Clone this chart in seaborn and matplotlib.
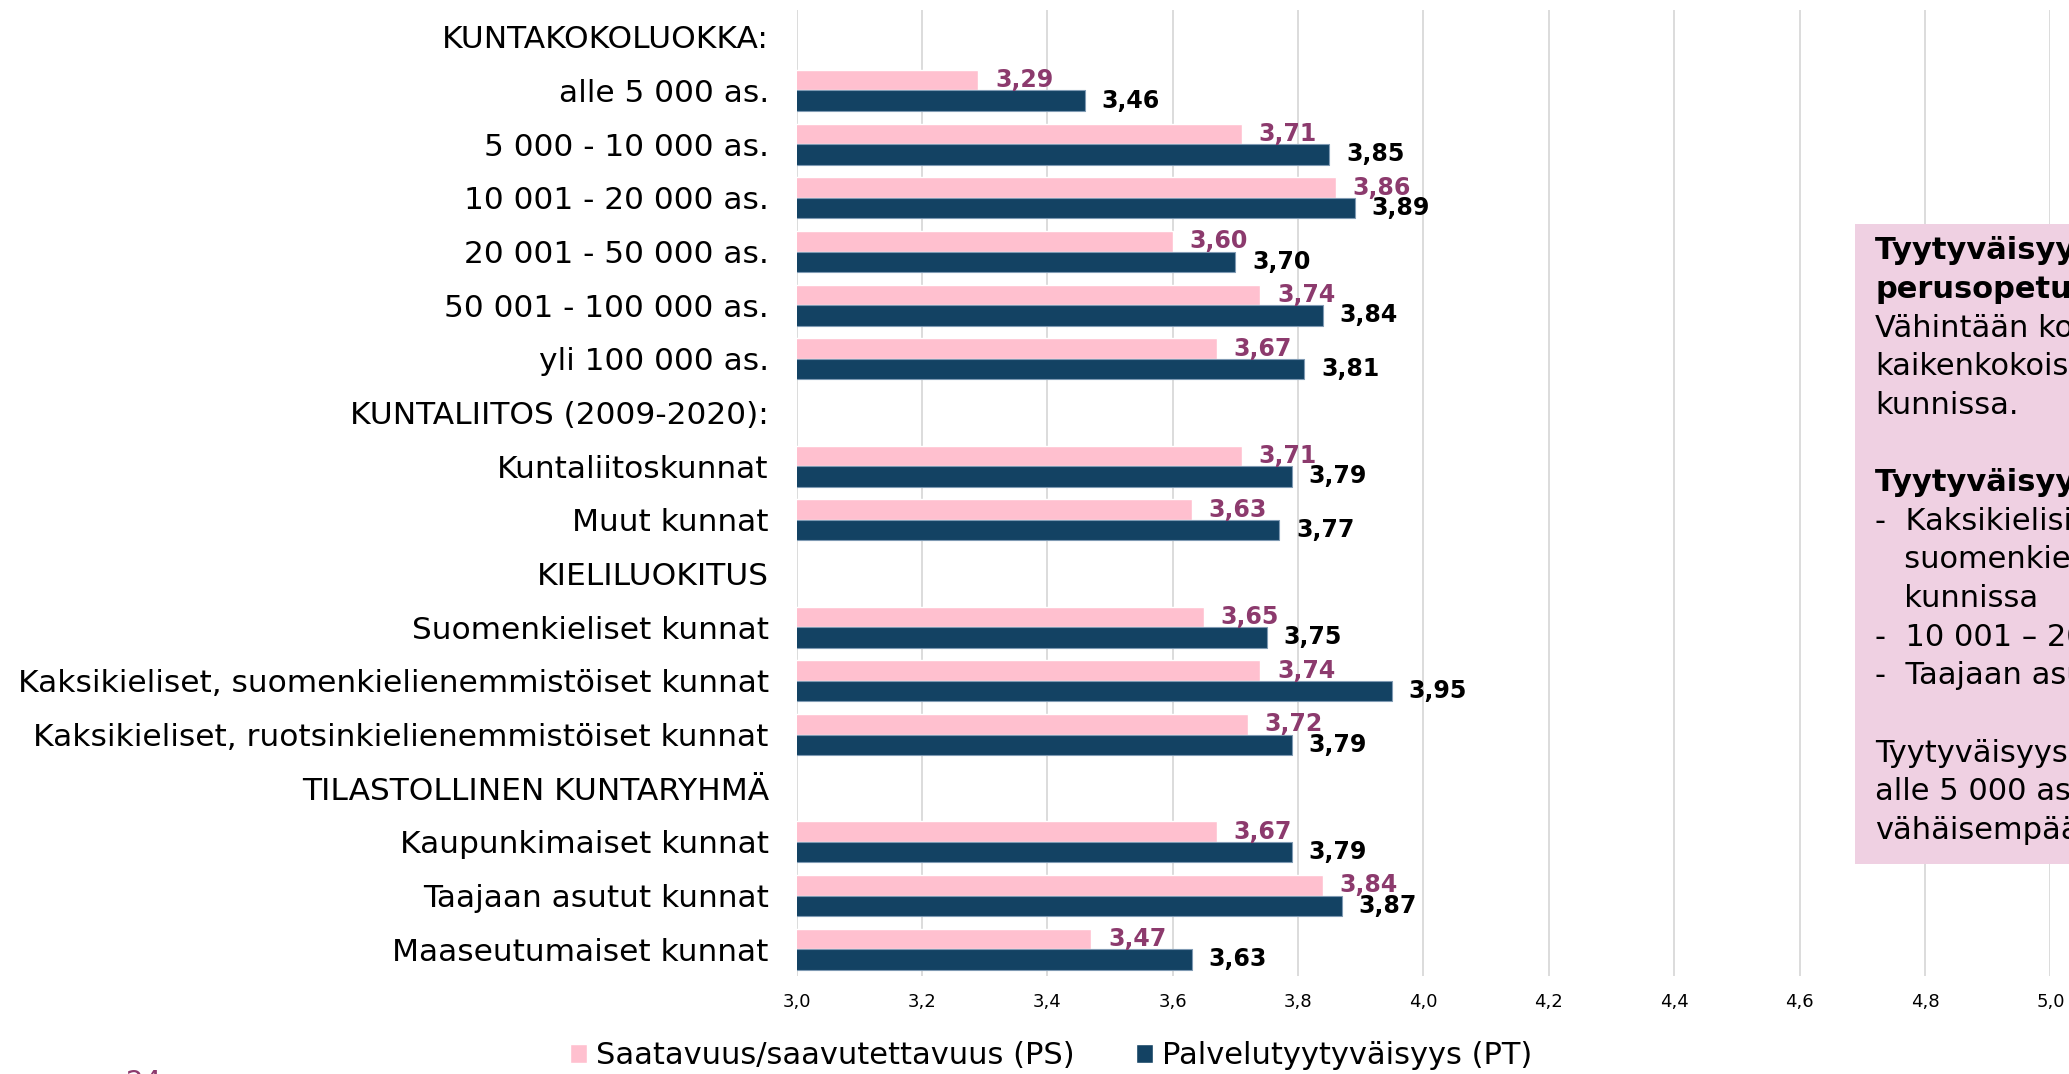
#!/usr/bin/env python3
"""
Tyytyväisyys perusopetukseen kuntaryhmittäin - vaakapylväät
"""

import numpy as np
import pandas as pd
import matplotlib
matplotlib.use('Agg')
import matplotlib.pyplot as plt
from matplotlib.patches import Rectangle
import seaborn as sns

# Data
categories = [
    'KUNTAKOKOLUOKKA:',
    'alle 5 000 as.',
    '5 000 - 10 000 as.',
    '10 001 - 20 000 as.',
    '20 001 - 50 000 as.',
    '50 001 - 100 000 as.',
    'yli 100 000 as.',
    'KUNTALIITOS (2009-2020):',
    'Kuntaliitoskunnat',
    'Muut kunnat',
    'KIELILUOKITUS',
    'Suomenkieliset kunnat',
    'Kaksikieliset, suomenkielienemmistöiset kunnat',
    'Kaksikieliset, ruotsinkielienemmistöiset kunnat',
    'TILASTOLLINEN KUNTARYHMÄ',
    'Kaupunkimaiset kunnat',
    'Taajaan asutut kunnat',
    'Maaseutumaiset kunnat',
]
ps_values = [np.nan, 3.29, 3.71, 3.86, 3.60, 3.74, 3.67, np.nan, 3.71, 3.63,
             np.nan, 3.65, 3.74, 3.72, np.nan, 3.67, 3.84, 3.47]
pt_values = [np.nan, 3.46, 3.85, 3.89, 3.70, 3.84, 3.81, np.nan, 3.79, 3.77,
             np.nan, 3.75, 3.95, 3.79, np.nan, 3.79, 3.87, 3.63]
series_names = ['Saatavuus/saavutettavuus (PS)', 'Palvelutyytyväisyys (PT)']
x_ticks = [3.0, 3.2, 3.4, 3.6, 3.8, 4.0, 4.2, 4.4, 4.6, 4.8, 5.0]

box_lines = [
    ('Tyytyväisyys saatavuuteen ja', True),
    ('perusopetukseen', True),
    ('Vähintään kohtalaista', False),
    ('kaikenkokoisissa', False),
    ('kunnissa.', False),
    ('', False),
    ('Tyytyväisyys korkeinta', True),
    ('-  Kaksikielisissä', False),
    ('   suomenkielienemmistöisissä', False),
    ('   kunnissa', False),
    ('-  10 001 – 20 000 as.', False),
    ('-  Taajaan asutuissa', False),
    ('', False),
    ('Tyytyväisyys', False),
    ('alle 5 000 as. kunnissa', False),
    ('vähäisempää', False),
]

PINK = '#FFC0CF'
NAVY = '#134263'
PURPLE = '#8C3A6D'
BOX = '#EFD0E2'


def fmt(v):
    return f"{v:.2f}".replace('.', ',')


def main():
    sns.set_theme(style='white')
    plt.rcParams['font.family'] = ['DejaVu Sans']
    plt.rcParams['text.color'] = 'black'
    plt.rcParams['xtick.color'] = 'black'
    plt.rcParams['ytick.color'] = 'black'

    n = len(categories)
    df = pd.DataFrame({
        'kategoria': categories * 2,
        'arvo': ps_values + pt_values,
        'sarja': [series_names[0]] * n + [series_names[1]] * n,
    })

    fig = plt.figure(figsize=(20.69, 10.74), dpi=100)
    ax = fig.add_axes([0.385, 0.0912, 0.606, 0.8995])

    sns.barplot(data=df, y='kategoria', x='arvo', hue='sarja', order=categories,
                hue_order=series_names, palette=[PINK, NAVY], orient='h',
                width=0.76, saturation=1, ax=ax)

    ax.set_xlim(3.0, 5.0)
    ax.set_ylim(n - 0.5, -0.5)
    ax.set_xticks(x_ticks)
    ax.set_xticklabels([f"{t:.1f}".replace('.', ',') for t in x_ticks], fontsize=13)
    ax.tick_params(axis='y', labelsize=22.5, pad=20, length=0)
    ax.tick_params(axis='x', pad=12, length=0)
    ax.set_xlabel('')
    ax.set_ylabel('')
    ax.grid(axis='x', color='#D9D9D9', linewidth=1.3)
    ax.set_axisbelow(True)
    for side in ['top', 'right', 'bottom', 'left']:
        ax.spines[side].set_visible(False)

    # Arvolaput
    for cont, col in zip(ax.containers, [PURPLE, 'black']):
        labels = ['' if np.isnan(p.get_width()) else fmt(p.get_width()) for p in cont]
        ax.bar_label(cont, labels=labels, padding=12, fontsize=17,
                     fontweight='bold', color=col)
    for p in ax.containers[1]:
        p.set_edgecolor('#7F9AB3')
        p.set_linewidth(0.8)

    # Legenda alas
    handles, labels = ax.get_legend_handles_labels()
    if ax.get_legend() is not None:
        ax.get_legend().remove()
    fig.legend(handles, labels, loc='center', bbox_to_anchor=(0.508, 0.017),
               ncol=2, frameon=False, fontsize=22, handlelength=0.55,
               handleheight=0.55, handletextpad=0.3, columnspacing=2.0)

    # Tekstilaatikko oikealla (leikkautuu kuvan reunaan kuten alkuperäisessä)
    fig.add_artist(Rectangle((0.8966, 0.1955), 0.2, 0.5959, transform=fig.transFigure,
                             facecolor=BOX, edgecolor='none', zorder=3))
    y0 = 1 - 250.7 / 1074
    step = 38.66 / 1074
    for i, (txt, bold) in enumerate(box_lines):
        if not txt:
            continue
        fig.text(0.9063, y0 - i * step, txt, fontsize=22,
                 va='center', ha='left',
                 fontweight='heavy' if bold else 'normal', color='black', zorder=4)

    # Sivunumero
    fig.text(0.0696, 1 - 1069 / 1074, '24', fontsize=20, color=PURPLE,
             ha='center', va='top')

    fig.savefig('out.png', dpi=100)
    plt.close(fig)


if __name__ == "__main__":
    main()
